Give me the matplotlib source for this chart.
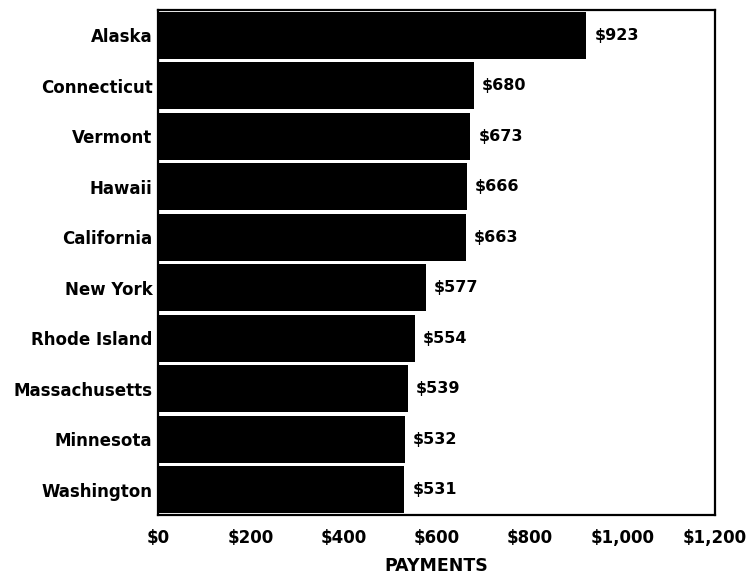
import matplotlib.pyplot as plt

states = ['Alaska', 'Connecticut', 'Vermont', 'Hawaii', 'California',
          'New York', 'Rhode Island', 'Massachusetts', 'Minnesota', 'Washington']
payments = [923, 680, 673, 666, 663, 577, 554, 539, 532, 531]
ticks = [0, 200, 400, 600, 800, 1000, 1200]
tick_labels = ['$0', '$200', '$400', '$600', '$800', '$1,000', '$1,200']

plt.rcParams['font.family'] = ['DejaVu Sans']
plt.rcParams['font.weight'] = 'bold'

fig = plt.figure(figsize=(7.51, 5.79), dpi=100)
ax = fig.add_axes([158 / 751, 64 / 579, 557 / 751, 505 / 579])

y = range(len(states))
ax.barh(y, payments, height=0.93, color='black')
for i, v in zip(y, payments):
    ax.text(v + 17, i, f'${v}', va='center', ha='left', fontsize=11.5, fontweight='bold')

ax.set_xlim(0, 1200)
ax.set_ylim(len(states) - 0.5, -0.5)
ax.set_yticks(list(y))
ax.set_yticklabels(states, fontsize=12, fontweight='bold')
ax.set_xticks(ticks)
ax.set_xticklabels(tick_labels, fontsize=12, fontweight='bold')
ax.tick_params(length=0)
ax.tick_params(axis='y', pad=4)
ax.tick_params(axis='x', pad=10)
ax.set_xlabel('PAYMENTS', fontsize=12.5, fontweight='bold', labelpad=7)
for s in ax.spines.values():
    s.set_linewidth(1.6)

fig.savefig('out.png', dpi=100)
